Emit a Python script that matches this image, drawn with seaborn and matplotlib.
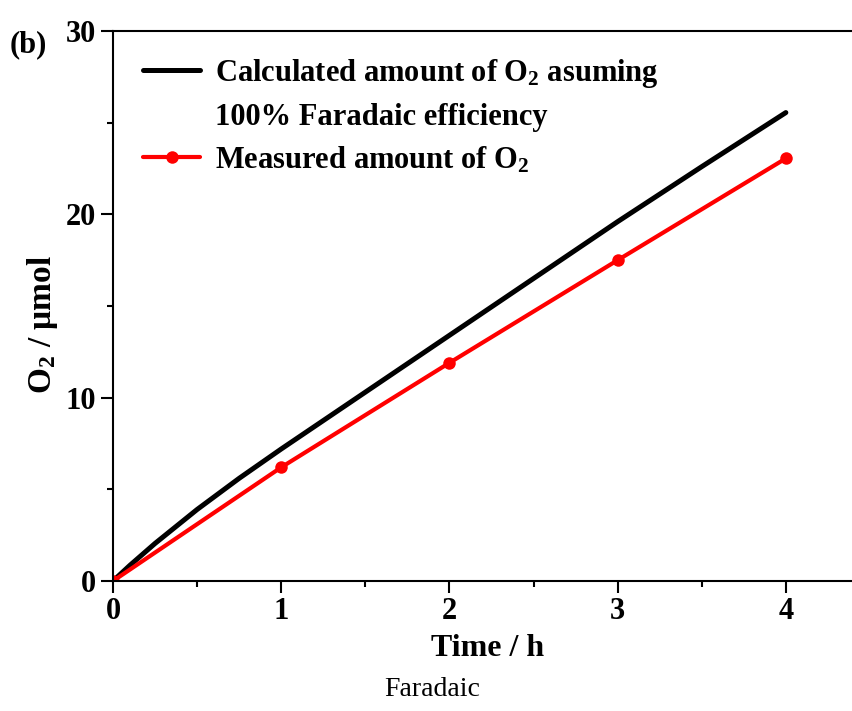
import matplotlib
matplotlib.use("Agg")
import matplotlib.pyplot as plt
import seaborn as sns
import pandas as pd
import numpy as np
from matplotlib.lines import Line2D
from matplotlib.ticker import MultipleLocator

# data
calc_time = [0, 0.1, 0.25, 0.5, 0.75, 1.0, 1.5, 2.0, 2.5, 3.0, 3.5, 4.0]
calc_o2 = [0, 0.85, 2.05, 3.9, 5.6, 7.2, 10.3, 13.4, 16.5, 19.6, 22.6, 25.55]
meas_time = [0, 1, 2, 3, 4]
meas_o2 = [0, 6.2, 11.9, 17.5, 23.05]
calc_label = "Calculated amount of O$_2$ asuming"
calc_label2 = "100% Faradaic efficiency"
meas_label = "Measured amount of O$_2$"

sns.set_theme(style="ticks")
plt.rcParams["font.family"] = ["Liberation Serif", "DejaVu Serif"]
plt.rcParams["font.weight"] = "bold"
plt.rcParams["mathtext.fontset"] = "custom"
plt.rcParams["mathtext.rm"] = "Liberation Serif:bold"
plt.rcParams["mathtext.it"] = "Liberation Serif:bold"
plt.rcParams["mathtext.bf"] = "Liberation Serif:bold"
for k in ["text.color", "axes.labelcolor", "xtick.color", "ytick.color", "axes.edgecolor"]:
    plt.rcParams[k] = "black"

fig = plt.figure(figsize=(8.53, 7.11), dpi=100)
ax = fig.add_axes([113/853, 1-581/711, 1-113/853 + 0.01, (581-31)/711])

df_calc = pd.DataFrame({"t": calc_time, "o2": calc_o2})
df_meas = pd.DataFrame({"t": meas_time, "o2": meas_o2})
sns.lineplot(data=df_calc, x="t", y="o2", ax=ax, color="black", lw=3.6,
             label=calc_label, solid_capstyle="round")
sns.lineplot(data=df_meas, x="t", y="o2", ax=ax, color="#ff0000", lw=3.0,
             marker="o", markersize=9, markeredgewidth=0, label=meas_label)

ax.set_xlim(0, 4.45)
ax.set_ylim(0, 30)
ax.xaxis.set_major_locator(MultipleLocator(1))
ax.xaxis.set_minor_locator(MultipleLocator(0.5))
ax.yaxis.set_major_locator(MultipleLocator(10))
ax.yaxis.set_minor_locator(MultipleLocator(5))
ax.tick_params(which="major", length=8.5, width=1.5, labelsize=22, direction="out", pad=3, color="black", labelcolor="black")
ax.tick_params(which="minor", length=4.5, width=1.5, direction="out", color="black")
ax.tick_params(axis="y", pad=4)
for lab in ax.get_xticklabels() + ax.get_yticklabels():
    lab.set_fontweight("bold")
for s in ["left", "bottom", "top"]:
    ax.spines[s].set_linewidth(1.5)
    ax.spines[s].set_color("black")
ax.spines["right"].set_visible(False)

ax.set_xlabel("Time / h", fontsize=23, fontweight="bold", labelpad=6, color="black")
ax.set_ylabel("O$_2$ / μmol", fontsize=24, fontweight="bold", color="black")
ax.yaxis.set_label_coords(-0.0708, 0.467)

h1 = Line2D([], [], color="black", lw=3.6)
h2 = Line2D([], [], color="none")
h3 = Line2D([], [], color="#ff0000", lw=3.0, marker="o", markersize=9, markeredgewidth=0)
leg = ax.legend([h1, h2, h3], [calc_label, calc_label2, meas_label],
          loc="upper left", bbox_to_anchor=(143/853, 1-57/711),
          bbox_transform=fig.transFigure, frameon=False,
          prop={"family": "Liberation Serif", "weight": "bold", "size": 22},
          handlelength=1.87, handletextpad=0.5, labelspacing=0.42,
          borderpad=0, borderaxespad=0)
for t in leg.get_texts():
    t.set_color("black")

fig.text(10/853, 1-45/711, "(b)", fontsize=22, fontweight="bold", va="center", ha="left", color="black")
fig.text(432/853, 1-690/711, "Faradaic", fontsize=20, fontweight="normal", va="center", ha="center", color="black")

fig.savefig("out.png", dpi=100)
